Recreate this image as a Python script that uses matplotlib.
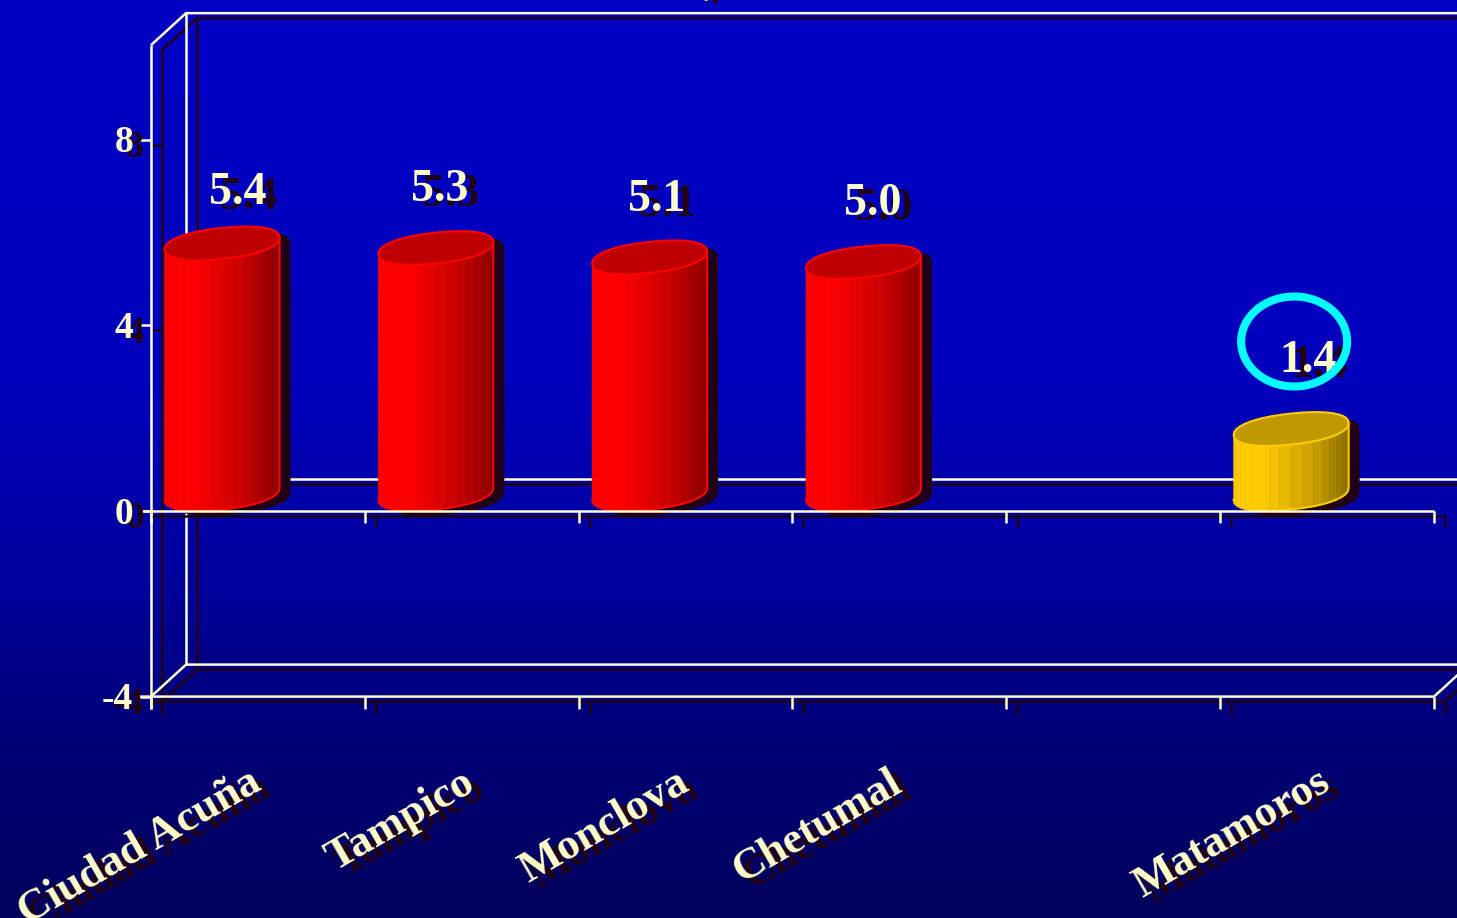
import numpy as np
import matplotlib
matplotlib.use("Agg")
import matplotlib.pyplot as plt
from matplotlib.colors import LinearSegmentedColormap
from matplotlib.patches import Ellipse

# datos
ciudades = ["Ciudad Acuña", "Tampico", "Monclova", "Chetumal", "", "Matamoros"]
valores = [5.4, 5.3, 5.1, 5.0, None, 1.4]
colores = [(1, 0, 0), (1, 0, 0), (1, 0, 0), (1, 0, 0), None, (1, 0.8, 0)]
etiquetas_y = [8, 4, 0, -4]

CREMA = "#ffffcc"
SOMBRA = "#200018"

# escala: pixeles por unidad en cada eje
PX = 213.83
PY = 46.4
DEPTH_X, DEPTH_Y = 35 / PX, 32 / PY
SH_X, SH_Y = 11 / PX, 5 / PY

plt.rcParams["font.family"] = ["Liberation Serif", "DejaVu Serif"]
plt.rcParams["font.weight"] = "bold"

fig = plt.figure(figsize=(14.57, 9.18), dpi=100)
ax = fig.add_axes([0, 0, 1, 1])
ax.set_xlim(-151 / PX, (1457 - 151) / PX)
ax.set_ylim((511 - 918) / PY, 511 / PY)
ax.axis("off")

# fondo degradado
cmap = LinearSegmentedColormap.from_list(
    "fondo",
    [(0, "#0000c4"), (0.42, "#0000bc"), (0.65, "#00009a"), (0.8, "#000078"), (1, "#00005c")],
)
ax.imshow(
    np.linspace(0, 1, 256).reshape(-1, 1),
    cmap=cmap,
    aspect="auto",
    extent=[ax.get_xlim()[0], ax.get_xlim()[1], ax.get_ylim()[0], ax.get_ylim()[1]],
    zorder=0,
)


def linea(xs, ys, z=2, lw=1.8):
    # cada linea lleva su sombra desplazada
    ax.plot(np.array(xs) + SH_X, np.array(ys) - SH_Y, color=SOMBRA, lw=lw, zorder=z - 1,
            solid_capstyle="butt", solid_joinstyle="miter")
    ax.plot(xs, ys, color=CREMA, lw=lw, zorder=z, solid_capstyle="butt", solid_joinstyle="miter")


def texto(x, y, s, size, **kw):
    ax.text(x + SH_X, y - SH_Y, s, color=SOMBRA, fontsize=size, zorder=7, **kw)
    ax.text(x, y, s, color=CREMA, fontsize=size, zorder=8, **kw)


def redondo(t, p=0.9):
    # elipse algo cuadrada, como las tapas del original
    return np.sign(np.cos(t)) * np.abs(np.cos(t)) ** p, np.sign(np.sin(t)) * np.abs(np.sin(t)) ** p


n = len(ciudades)
tick_y = 12 / PY
tick_x = 11 / PX

# marco 3D
linea([0, 0], [-4 - tick_y, 10.04])
linea([0, DEPTH_X, n + DEPTH_X], [10.04, 10.04 + DEPTH_Y, 10.04 + DEPTH_Y])
linea([DEPTH_X, DEPTH_X], [10.04 + DEPTH_Y, -4 + DEPTH_Y])
linea([0, DEPTH_X, n + DEPTH_X], [-4, -4 + DEPTH_Y, -4 + DEPTH_Y])
linea([-tick_x, n, n + DEPTH_X], [-4, -4, -4 + DEPTH_Y])
linea([DEPTH_X, n + DEPTH_X], [0.7, 0.7])
linea([-tick_x, n], [0, 0], z=6)

for v in etiquetas_y:
    linea([-tick_x, 0], [v, v])
    texto(-18 / PX, v - 3 / PY, str(v), 27, ha="right", va="center")

for i in range(n + 1):
    linea([i, i], [-tick_y, 0], z=6)
    linea([i, i], [-4 - tick_y, -4])

# cilindros
BAR_POS = 71 / PX
a = 57.5 / PX
b = 15.5 / PY
k = 6 / PY
base = 17 / PY
etiq_dx = [16, 4, 7, 9, None, 17]
etiq_dy = [50, 58, 57, 58, None, 68]

for i, v in enumerate(valores):
    if v is None:
        continue
    cx = i + BAR_POS
    col = np.array(colores[i])
    t = np.linspace(np.pi, 2 * np.pi, 19)
    ct, st = redondo(t)
    xs = cx + a * ct
    y_base = base + k * ct + b * st
    y_top = y_base + v

    # sombra
    tt = np.linspace(0, 2 * np.pi, 41)
    ct2, st2 = redondo(tt)
    ax.fill(
        np.r_[xs, xs[::-1]] + SH_X, np.r_[y_base, y_top[::-1]] - SH_Y,
        color=SOMBRA, lw=0, zorder=3,
    )
    ax.fill(cx + a * ct2 + SH_X, base + v + k * ct2 + b * st2 - SH_Y,
            color=SOMBRA, lw=0, zorder=3)

    # caras verticales, de claro a oscuro
    for j in range(len(t) - 1):
        u = (xs[j] + xs[j + 1] - 2 * xs[0]) / 2 / (2 * a)
        f = np.interp(u, [0, 0.25, 0.7, 1], [1, 1, 0.78, 0.55])
        ax.fill(
            [xs[j], xs[j + 1], xs[j + 1], xs[j]],
            [y_base[j], y_base[j + 1], y_top[j + 1], y_top[j]],
            color=tuple(col * f), lw=0.4, zorder=4,
        )
    ax.plot(np.r_[xs, xs[-1]], np.r_[y_base, y_top[-1]], color=col, lw=1.5, zorder=5)

    # tapa
    ax.fill(
        cx + a * ct2, base + v + k * ct2 + b * st2,
        facecolor=tuple(col * 0.75), edgecolor=col, lw=1.5, zorder=5,
    )

    texto(cx + etiq_dx[i] / PX, v + base + etiq_dy[i] / PY, f"{v:.1f}", 33, ha="center", va="center")

# nombres de las ciudades
for i, c in enumerate(ciudades):
    if c:
        ax.text(i + 0.5 + SH_X * 0.9, -5.78 - SH_Y * 1.2, c, color=SOMBRA, fontsize=32, rotation=30,
                ha="right", va="center", rotation_mode="anchor", zorder=7)
        ax.text(i + 0.5, -5.78, c, color=CREMA, fontsize=32, rotation=30,
                ha="right", va="center", rotation_mode="anchor", zorder=8)

# circulo cian sobre el valor de Matamoros
ax.add_patch(Ellipse((5 + 74 / PX, 169.5 / PY), 106 / PX, 90 / PY, fill=False,
                     edgecolor="#00ffff", lw=5.8, zorder=9))

# resto del titulo que queda cortado arriba
ax.text(2.595 + SH_X * 0.8, 11.0 - SH_Y * 0.6, ".", color=SOMBRA, fontsize=24, ha="center", va="baseline", zorder=7)
ax.text(2.595, 11.0, ".", color="#ffff00", fontsize=24, ha="center", va="baseline", zorder=8)

fig.savefig("out.png", dpi=100)
